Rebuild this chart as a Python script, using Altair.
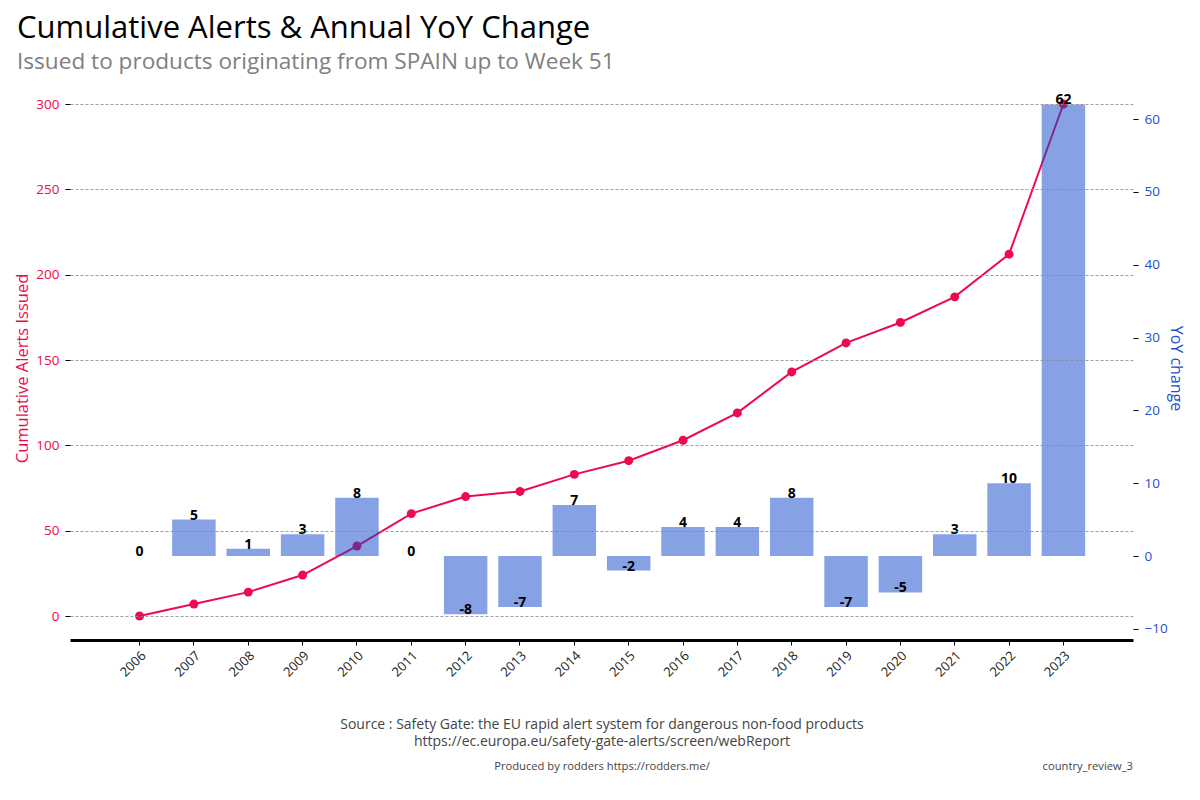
import altair as alt
import pandas as pd

years = [2006, 2007, 2008, 2009, 2010, 2011, 2012, 2013, 2014, 2015,
         2016, 2017, 2018, 2019, 2020, 2021, 2022, 2023]
cumulative = [0, 7, 14, 24, 41, 60, 70, 73, 83, 91, 103, 119, 143, 160, 172, 187, 212, 300]
yoy_change = [0, 5, 1, 3, 8, 0, -8, -7, 7, -2, 4, 4, 8, -7, -5, 3, 10, 62]

title_text = "Cumulative Alerts & Annual YoY Change"
subtitle_text = "Issued to products originating from SPAIN up to Week 51"
source_lines = ["Source : Safety Gate: the EU rapid alert system for dangerous non-food products",
                "https://ec.europa.eu/safety-gate-alerts/screen/webReport"]
produced_by = "Produced by rodders https://rodders.me/"
report_id = "country_review_3"

df = pd.DataFrame({"year": years, "cumulative": cumulative, "yoy": yoy_change})
df["yoy_label"] = [str(v) for v in yoy_change]

RED = "#ee0a4e"
BLUE = "#1f4fd1"
BAR = "#0f45c9"
FONT = "Open Sans"

W, H = 1063, 544

x_enc = alt.X(
    "year:O",
    scale=alt.Scale(type="band", paddingInner=0.2, paddingOuter=0.88),
    axis=alt.Axis(
        title=source_lines,
        titleFont=FONT, titleFontSize=14, titleColor="#444444", titleFontWeight="normal",
        titlePadding=38, titleLineHeight=17,
        labelAngle=-45, labelFont=FONT, labelFontSize=13, labelColor="#222222",
        labelPadding=4,
        domainColor="#000000", domainWidth=3,
        tickColor="#000000", tickSize=5, tickWidth=1,
        grid=False,
    ),
)

y_right = alt.Y(
    "yoy:Q",
    scale=alt.Scale(domain=[-11.53, 63.16], nice=False, zero=False),
    axis=alt.Axis(
        orient="right", title="YoY change",
        titleColor=BLUE, titleFont=FONT, titleFontSize=16, titleFontWeight="normal",
        titlePadding=0,
        values=[-10, 0, 10, 20, 30, 40, 50, 60],
        labelColor=BLUE, labelFont=FONT, labelFontSize=13.5, labelPadding=6,
        tickColor="#000000", tickSize=5,
        domain=False, grid=False,
    ),
)

line = alt.Chart(df).mark_line(
    color=RED, strokeWidth=2,
    point=alt.OverlayMarkDef(color=RED, size=80, filled=True, opacity=1),
).encode(
    x=x_enc,
    y=alt.Y(
        "cumulative:Q",
        scale=alt.Scale(domain=[-14.06, 304.69], nice=False, zero=False),
        axis=alt.Axis(
            orient="left", title="Cumulative Alerts Issued",
            titleColor=RED, titleFont=FONT, titleFontSize=16.5, titleFontWeight="normal",
            titlePadding=5,
            values=[0, 50, 100, 150, 200, 250, 300],
            labelColor=RED, labelFont=FONT, labelFontSize=13.5, labelPadding=6,
            tickColor="#000000", tickSize=5,
            domain=False,
            grid=True, gridColor="#888888", gridDash=[3, 2], gridWidth=0.8,
            zindex=1,
        ),
    ),
)

bars = alt.Chart(df).mark_bar(color=BAR, opacity=0.5).encode(
    x=x_enc,
    y=y_right,
    y2=alt.datum(0),
)

labels = alt.Chart(df).mark_text(
    font=FONT, fontSize=14, fontWeight="bold", color="#000000",
    baseline="alphabetic", align="center", dy=0,
).encode(
    x=x_enc,
    y=y_right,
    text=alt.Text("yoy_label:N"),
)

right = alt.layer(bars, labels)

footer_df = pd.DataFrame({"produced": [produced_by], "rid": [report_id]})
foot1 = alt.Chart(footer_df).mark_text(
    font=FONT, fontSize=11.2, color="#444444", align="center", baseline="middle"
).encode(x=alt.value(532), y=alt.value(671), text="produced:N")
foot2 = alt.Chart(footer_df).mark_text(
    font=FONT, fontSize=11.2, color="#444444", align="right", baseline="middle"
).encode(x=alt.value(1063), y=alt.value(671), text="rid:N")

chart = alt.layer(line, right, foot1, foot2).resolve_scale(y="independent").properties(
    width=W, height=H,
    autosize=alt.AutoSizeParams(type="none"),
    padding={"left": 62, "top": 88, "right": 59, "bottom": 152},
    title=alt.TitleParams(
        text=title_text, subtitle=subtitle_text,
        anchor="start", frame="group", dx=-53, offset=19,
        font=FONT, fontSize=31, fontWeight="normal", color="#000000",
        subtitleFont=FONT, subtitleFontSize=22.6, subtitleColor="#808080",
        subtitlePadding=6,
    ),
).configure(background="white", view=alt.ViewConfig(stroke="transparent", strokeWidth=0))

chart.save("out.html", embed_options={"renderer": "svg", "actions": False})
